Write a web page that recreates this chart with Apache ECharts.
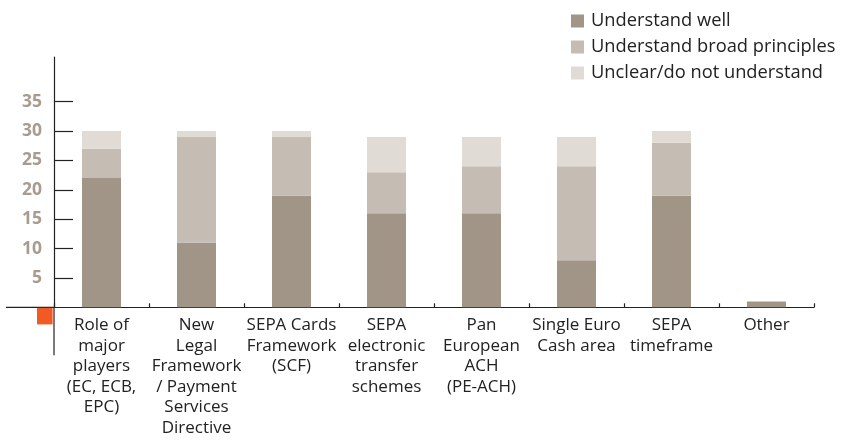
<!DOCTYPE html>
<html>
<head>
<meta charset="utf-8">
<script src="https://cdn.jsdelivr.net/npm/echarts@6/dist/echarts.min.js"></script>
<style>
  html, body { margin: 0; padding: 0; background: #ffffff; }
  #chart { width: 852px; height: 442px; }
</style>
</head>
<body>
<div id="chart"></div>
<script>
// Topics and how well respondents understand them (number of respondents)
const categories = [
  'Role of\nmajor\nplayers\n(EC, ECB,\nEPC)',
  'New\nLegal\nFramework\n/ Payment\nServices\nDirective',
  'SEPA Cards\nFramework\n(SCF)',
  'SEPA\nelectronic\ntransfer\nschemes',
  'Pan\nEuropean\nACH\n(PE-ACH)',
  'Single Euro\nCash area',
  'SEPA\ntimeframe',
  'Other'
];
const understandWell = [22, 11, 19, 16, 16, 8, 19, 1];
const broadPrinciples = [5, 18, 10, 7, 8, 16, 9, 0];
const unclear = [3, 1, 1, 6, 5, 5, 2, 0];
const seriesNames = ['Understand well', 'Understand broad principles', 'Unclear/do not understand'];
const yTickValues = [5, 10, 15, 20, 25, 30, 35];

const colors = ['#a19588', '#c5bcb3', '#e0dbd5'];
const FONT = '"Open Sans", "DejaVu Sans", sans-serif';
const AXIS_COLOR = '#222222';

const chart = echarts.init(document.getElementById('chart'), null, { renderer: 'canvas' });

function barSeries(name, data, color) {
  return {
    name: name,
    type: 'bar',
    stack: 'total',
    barWidth: 39,
    data: data,
    itemStyle: { color: color },
    emphasis: { disabled: true }
  };
}

chart.setOption({
  animation: false,
  backgroundColor: '#ffffff',
  color: colors,
  legend: {
    orient: 'vertical',
    left: 566,
    top: 6,
    itemWidth: 13,
    itemHeight: 13,
    itemGap: 6,
    icon: 'rect',
    textStyle: { fontFamily: FONT, fontSize: 18.3, color: '#222222', lineHeight: 20, padding: [0, 0, 0, 2] },
    data: seriesNames
  },
  grid: { left: 54, right: 38, top: 57, bottom: 134.7, containLabel: false, outerBoundsMode: 'none' },
  xAxis: {
    type: 'category',
    data: categories,
    axisLine: { onZero: false, lineStyle: { color: AXIS_COLOR, width: 1.2 } },
    axisTick: { show: true, inside: true, length: 4, lineStyle: { color: AXIS_COLOR, width: 1.2 } },
    axisLabel: {
      interval: 0,
      margin: 8,
      fontFamily: FONT,
      fontSize: 17,
      lineHeight: 20.5,
      color: '#222222',
      align: 'center'
    },
    splitLine: { show: false }
  },
  yAxis: {
    type: 'value',
    min: 0,
    max: 42.6,
    axisLine: { show: true, lineStyle: { color: AXIS_COLOR, width: 1.2 } },
    axisTick: {
      show: true, inside: true, length: 19,
      customValues: yTickValues,
      lineStyle: { color: AXIS_COLOR, width: 1.2 }
    },
    axisLabel: {
      customValues: yTickValues,
      margin: 12,
      fontFamily: FONT,
      fontSize: 17.5,
      fontWeight: 'bold',
      color: '#a89c90'
    },
    splitLine: { show: false }
  },
  series: [
    barSeries(seriesNames[0], understandWell, colors[0]),
    barSeries(seriesNames[1], broadPrinciples, colors[1]),
    barSeries(seriesNames[2], unclear, colors[2])
  ]
});

// Axis lines extended past the origin, plus the orange corner marker
const originY = chart.convertToPixel({ yAxisIndex: 0 }, 0);
const originX = 54;
chart.setOption({
  graphic: [
    {
      type: 'line',
      shape: { x1: 6, y1: originY, x2: originX, y2: originY },
      style: { stroke: AXIS_COLOR, lineWidth: 1.2 },
      silent: true
    },
    {
      type: 'line',
      shape: { x1: originX, y1: originY, x2: originX, y2: originY + 48 },
      style: { stroke: AXIS_COLOR, lineWidth: 1.2 },
      silent: true
    },
    {
      type: 'rect',
      shape: { x: originX - 17, y: originY + 0.6, width: 15.6, height: 16.5 },
      style: { fill: '#f15a24' },
      silent: true
    }
  ]
});
</script>
</body>
</html>
